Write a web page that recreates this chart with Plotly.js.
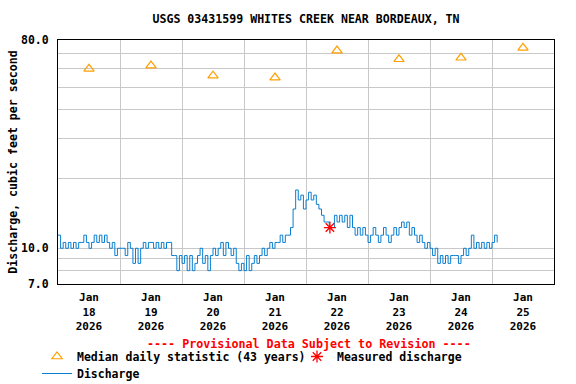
<!DOCTYPE html>
<html>
<head>
<meta charset="utf-8">
<script src="https://cdn.plot.ly/plotly-3.0.1.min.js"></script>
<style>html,body{margin:0;padding:0;background:#fff;}#chart{width:576px;height:384px;}</style>
</head>
<body>
<div id="chart"></div>
<script>
// Discharge, hourly readings starting 2026-01-18 00:00 (cfs)
const dischargeStart = '2026-01-18T00:00:00Z';
const dischargeStepHours = 1;
const dischargeValues = [
  11.4,10.0,10.6,10.0,10.6,10.0,10.6,10.0,10.6,10.6,
  11.4,10.6,10.0,10.6,11.4,10.6,11.4,10.6,11.4,10.6,
  10.0,10.6,9.3,10.0,10.0,10.0,9.3,10.6,10.0,8.6,
  10.0,8.6,10.0,10.6,10.0,10.6,10.6,10.0,10.6,10.0,
  10.6,10.0,10.6,10.6,9.3,9.3,8.0,9.3,8.6,9.3,
  8.0,9.3,8.0,8.6,9.3,10.0,8.6,9.3,8.0,9.3,
  10.0,9.3,10.0,10.6,9.3,10.6,10.0,9.3,10.0,8.6,
  8.0,8.6,8.0,9.3,8.0,8.6,9.3,8.6,9.3,10.0,
  9.3,10.0,10.6,10.0,10.6,10.6,11.4,10.6,11.4,11.4,
  12.3,14.8,17.9,16.2,17.0,14.8,16.2,17.5,16.2,17.0,
  15.5,14.8,13.9,13.0,13.0,12.3,12.3,13.9,13.0,13.9,
  13.0,13.9,12.3,13.9,12.3,11.4,12.3,11.4,12.3,11.4,
  10.6,11.4,12.3,11.4,10.6,11.4,12.3,11.4,10.6,11.4,
  12.3,11.4,12.3,13.0,12.3,13.0,11.4,12.3,11.4,10.6,
  11.4,10.6,10.0,10.6,10.0,9.3,10.0,8.6,9.3,8.6,
  9.3,8.6,9.3,9.3,9.3,8.6,9.3,10.0,9.3,10.0,
  11.4,10.0,10.6,10.0,10.6,10.0,10.6,10.0,10.6,11.4,
  10.6
];

// Median daily statistic (43 years)
const medianDates = ['2026-01-18 12:00','2026-01-19 12:00','2026-01-20 12:00','2026-01-21 12:00',
                     '2026-01-22 12:00','2026-01-23 12:00','2026-01-24 12:00','2026-01-25 12:00'];
const medianValues = [60, 62, 56, 55, 72, 66, 67, 74];

// Measured discharge
const measuredDates = ['2026-01-22 09:15'];
const measuredValues = [12.3];

// Axis ticks
const xTickVals = medianDates;
const xTickText = ['Jan<br>18<br>2026','Jan<br>19<br>2026','Jan<br>20<br>2026','Jan<br>21<br>2026',
                   'Jan<br>22<br>2026','Jan<br>23<br>2026','Jan<br>24<br>2026','Jan<br>25<br>2026'];
const yTickVals = [7, 8, 9, 10, 20, 30, 40, 50, 60, 70, 80];
const yTickText = ['7.0', '', '', '10.0', '', '', '', '', '', '', '80.0'];

const startMs = Date.parse(dischargeStart);
const dischargeDates = dischargeValues.map((v, i) =>
  new Date(startMs + i * dischargeStepHours * 3600000).toISOString().slice(0, 19).replace('T', ' '));

const FONT = 'DejaVu Sans Mono, Liberation Mono, monospace';
const GRID = '#c8c8c8';
const legendFont = {family: FONT, size: 11.5, color: '#000000', weight: 'bold'};

const traces = [
  {
    type: 'scatter', mode: 'lines', name: 'Discharge',
    x: dischargeDates, y: dischargeValues,
    line: {color: '#0a7fd0', width: 1, shape: 'hv'},
    legend: 'legend2'
  },
  {
    type: 'scatter', mode: 'markers', name: 'Median daily statistic (43 years)',
    x: medianDates, y: medianValues,
    marker: {symbol: 'triangle-up-open', size: 9, color: '#ffa000', line: {width: 1.2, color: '#ffa000'}},
    legend: 'legend', legendrank: 1, legendwidth: 215, cliponaxis: false
  },
  {
    type: 'scatter', mode: 'markers', name: 'Measured discharge',
    x: measuredDates, y: measuredValues,
    marker: {symbol: 'asterisk-open', size: 10, color: '#ff0000', line: {width: 1.3, color: '#ff0000'}},
    legend: 'legend', legendrank: 2
  }
];

const layout = {
  width: 576, height: 384,
  margin: {l: 58, r: 22, t: 40, b: 100},
  paper_bgcolor: '#ffffff', plot_bgcolor: '#ffffff',
  font: {family: FONT, size: 11.5, color: '#000000', weight: 'bold'},
  title: {
    text: 'USGS 03431599 WHITES CREEK NEAR BORDEAUX, TN',
    font: {family: FONT, size: 11.6, color: '#000000', weight: 'bold'},
    xref: 'paper', x: 0.5, xanchor: 'center',
    yref: 'container', y: 1 - 19 / 384, yanchor: 'middle'
  },
  xaxis: {
    type: 'date',
    range: ['2026-01-18 00:00', '2026-01-26 00:00'],
    tickmode: 'array', tickvals: xTickVals, ticktext: xTickText,
    ticks: 'outside', ticklen: 3, tickcolor: 'rgba(0,0,0,0)',
    showgrid: false,
    minor: {tick0: '2026-01-18 00:00', dtick: 86400000, showgrid: true, gridcolor: GRID, gridwidth: 1, ticks: ''},
    showline: true, linecolor: '#000000', linewidth: 1, mirror: true,
    zeroline: false, fixedrange: true, automargin: false,
    tickfont: {family: FONT, size: 11, color: '#000000', weight: 'bold'}
  },
  yaxis: {
    type: 'log',
    range: [Math.log10(7), Math.log10(80)],
    tickmode: 'array', tickvals: yTickVals, ticktext: yTickText,
    ticks: 'outside', ticklen: 6, tickcolor: 'rgba(0,0,0,0)',
    showgrid: true, gridcolor: GRID, gridwidth: 1,
    showline: true, linecolor: '#000000', linewidth: 1, mirror: true,
    zeroline: false, fixedrange: true, automargin: false,
    tickfont: {family: FONT, size: 11.5, color: '#000000', weight: 'bold'},
    title: {
      text: 'Discharge, cubic feet per second',
      font: {family: FONT, size: 11.6, color: '#000000', weight: 'bold'},
      standoff: 0
    }
  },
  showlegend: true,
  legend: {
    orientation: 'h',
    xref: 'container', yref: 'container',
    x: 37 / 576, xanchor: 'left',
    y: 1 - 342 / 384, yanchor: 'top',
    bgcolor: 'rgba(0,0,0,0)', borderwidth: 0,
    font: legendFont, traceorder: 'normal', itemwidth: 30
  },
  legend2: {
    orientation: 'h',
    xref: 'container', yref: 'container',
    x: 37 / 576, xanchor: 'left',
    y: 1 - 359 / 384, yanchor: 'top',
    bgcolor: 'rgba(0,0,0,0)', borderwidth: 0,
    font: legendFont, traceorder: 'normal', itemwidth: 30
  },
  annotations: [{
    text: '---- Provisional Data Subject to Revision ----',
    xref: 'paper', yref: 'paper', x: 0.507, y: -(343.5 - 284) / 244,
    xanchor: 'center', yanchor: 'middle', showarrow: false,
    font: {family: FONT, size: 11.7, color: '#ff0000', weight: 'bold'}
  }]
};

Plotly.newPlot('chart', traces, layout, {staticPlot: true, displayModeBar: false});
</script>
</body>
</html>
